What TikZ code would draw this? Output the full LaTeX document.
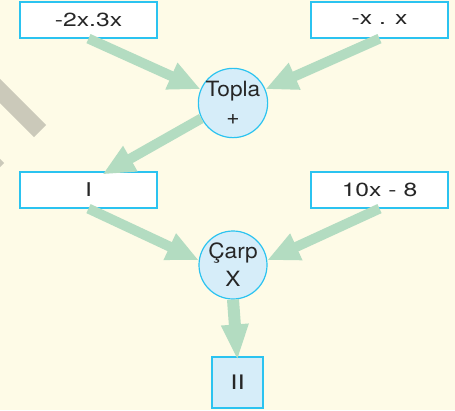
\documentclass[tikz,border=0pt]{standalone}
\usepackage{fontspec}
\setmainfont{TeX Gyre Heros}
\usepackage{xcolor}
\usepackage{tikz}
\usetikzlibrary{arrows.meta}
\definecolor{paperc}{HTML}{FEFBE7}
\definecolor{framec}{HTML}{2BC3F0}
\definecolor{bubblec}{HTML}{D6EDF9}
\definecolor{flowc}{HTML}{B3DCC1}
\definecolor{stripec}{HTML}{CBC9BA}
\definecolor{inkc}{HTML}{262626}
\newfontfamily\widesans[FakeStretch=1.3]{TeX Gyre Heros}
\newfontfamily\opsans[FakeStretch=1.08]{TeX Gyre Heros}
\tikzset{
  ar/.style={-{Triangle[length=32pt,width=27pt]},line width=10pt,flowc},
  exprbox/.style={draw=framec,line width=1.2pt,fill=white,minimum width=137pt,minimum height=36pt,inner sep=0pt,text=inkc,font=\widesans\fontsize{19}{22}\selectfont},
  opnode/.style={circle,draw=framec,line width=1.2pt,fill=bubblec,minimum size=68pt,inner sep=0pt,align=center,text=inkc,text height=43pt,text depth=-10pt,font=\opsans\fontsize{21}{28}\selectfont},
  resbox/.style={draw=framec,line width=1.2pt,fill=bubblec,minimum size=51pt,inner sep=0pt,text=inkc,font=\widesans\fontsize{20}{22}\selectfont}
}
\begin{document}
\begin{tikzpicture}[x=1pt,y=-1pt]
\fill[paperc] (0,0) rectangle (455,410);
\useasboundingbox (0,0) rectangle (455,410);
% decorative stripes at the left edge
\draw[stripec,line width=17pt] (-30,61) -- (40,131);
\draw[stripec,line width=17pt] (-60,111) -- (-2,169);
% nodes
\node[exprbox] (a) at (88.5,20) {-2x.3x};
\node[exprbox] (b) at (379.5,20) {-x . x};
\node[opnode] (topla) at (233,103) {Topla\\+};
\node[exprbox] (i) at (88.5,190) {I};
\node[exprbox] (c) at (379.5,190) {10x - 8};
\node[opnode] (carp) at (233,265) {Çarp\\X};
\node[resbox] (ii) at (237.5,382.5) {II};
% arrows
\draw[ar] (a.south) -- (topla.157);
\draw[ar] (b.south) -- (topla.23);
\draw[ar] (topla.206) -- ([xshift=14pt,yshift=-3pt]i.north);
\draw[ar] (i.south) -- (carp.172);
\draw[ar] (c.south) -- (carp.8);
\draw[ar,line width=12pt,-{Triangle[length=36pt,width=25pt]}] (carp.south) -- ([yshift=-4pt]ii.north);
\end{tikzpicture}
\end{document}
